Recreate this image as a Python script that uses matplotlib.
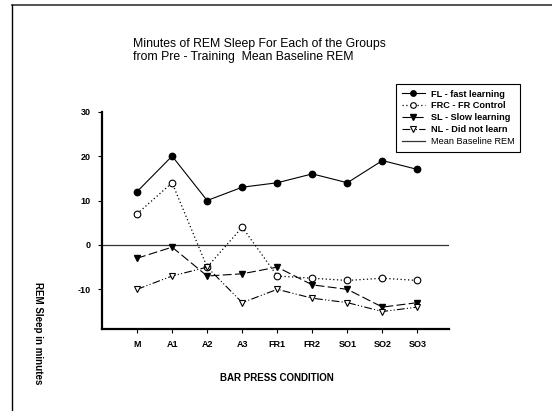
import matplotlib
matplotlib.use("Agg")
import matplotlib.pyplot as plt
from matplotlib.lines import Line2D

plt.rcParams['font.family'] = ['Liberation Sans', 'DejaVu Sans']

condizioni = ["M", "A1", "A2", "A3", "FR1", "FR2", "SO1", "SO2", "SO3"]
fl = [12, 20, 10, 13, 14, 16, 14, 19, 17]
frc = [7, 14, -5, 4, -7, -7.5, -8, -7.5, -8]
sl = [-3, -0.5, -7, -6.5, -5, -9, -10, -14, -13]
nl = [-10, -7, -5, -13, -10, -12, -13, -15, -14]
baseline = 0

fig = plt.figure(figsize=(5.52, 4.11), dpi=100)
ax = fig.add_axes([0.1848, 0.1988, 0.6286, 0.5294])

x = list(range(len(condizioni)))

ax.axhline(baseline, color="#333333", lw=0.9, label="Mean Baseline REM", zorder=1)
ax.plot(x, fl, color="black", lw=0.8, ls="-", marker="o", ms=4.6,
        mfc="black", mec="black", label="FL - fast learning")
ax.plot(x, frc, color="black", lw=0.9, ls=(0, (1, 2)), marker="o", ms=4.8,
        mfc="white", mec="black", mew=0.8, label="FRC - FR Control")
ax.plot(x, sl, color="black", lw=0.8, ls=(0, (8, 3)), marker="v", ms=4.8,
        mfc="black", mec="black", label="SL - Slow learning")
ax.plot(x, nl, color="black", lw=0.8, ls=(0, (7, 2, 1, 2, 1, 2)), marker="v", ms=4.8,
        mfc="white", mec="black", mew=0.8, label="NL - Did not learn")

ax.set_xlim(-1, 8.9)
ax.set_ylim(-19, 30)
ax.set_xticks(x)
ax.set_xticklabels(condizioni, fontsize=6.5, fontweight="bold")
ax.set_yticks([-10, 0, 10, 20, 30])
ax.set_yticklabels(["-10", "0", "10", "20", "30"], fontsize=6.5, fontweight="bold")
ax.tick_params(direction="out", length=3, width=0.8, pad=5)
for s in ["top", "right"]:
    ax.spines[s].set_visible(False)
for s in ["left", "bottom"]:
    ax.spines[s].set_linewidth(1.6)

fig.text(0.5018, 0.0803, "BAR PRESS CONDITION", ha="center", va="center",
         fontsize=7, fontweight="bold")
fig.text(0.069, 0.19, "REM Sleep in minutes", ha="center", va="center",
         rotation=270, fontsize=7, fontweight="bold")
fig.text(0.241, 0.878, "Minutes of REM Sleep For Each of the Groups\nfrom Pre - Training  Mean Baseline REM",
         ha="left", va="center", fontsize=8.8, linespacing=1.1)

handles, labels = ax.get_legend_handles_labels()
order = [1, 2, 3, 4, 0]
leg = ax.legend([handles[i] for i in order], [labels[i] for i in order],
                loc="upper left", bbox_to_anchor=(0.7174, 0.7956),
                bbox_transform=fig.transFigure, fontsize=6.6, fancybox=False,
                edgecolor="black", framealpha=1, handlelength=2.6,
                borderpad=0.6, labelspacing=0.32, handletextpad=0.6,
                borderaxespad=0, markerscale=0.85)
leg.get_frame().set_linewidth(0.8)
for i, t in enumerate(leg.get_texts()):
    if i < 4:
        t.set_fontweight("bold")

# cornice della pagina
fig.add_artist(Line2D([0.022, 1.0], [0.989, 0.989], color="#444444", lw=1.3))
fig.add_artist(Line2D([0.022, 0.022], [0.0, 0.989], color="black", lw=1.0))

fig.savefig("out.png", dpi=100)
